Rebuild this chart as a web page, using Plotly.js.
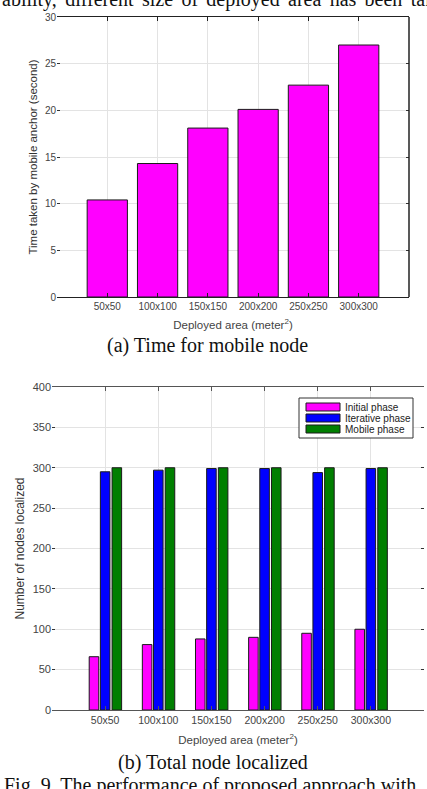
<!DOCTYPE html>
<html>
<head>
<meta charset="utf-8">
<script src="https://cdn.plot.ly/plotly-3.0.1.min.js"></script>
<style>
  html, body { margin: 0; padding: 0; background: #fff; }
  #fig { width: 427px; height: 789px; }
</style>
</head>
<body>
<div id="fig"></div>
<script>
// Deployed area sizes (x categories shared by both panels)
const areas = ['50x50', '100x100', '150x150', '200x200', '250x250', '300x300'];

// Panel (a): time taken by the mobile anchor, seconds
const mobileTime = [10.4, 14.3, 18.1, 20.1, 22.7, 27.0];

// Panel (b): number of nodes localized per phase
const phaseNames = ['Initial phase', 'Iterative phase', 'Mobile phase'];
const initialPhase = [66, 81, 88, 90, 95, 100];
const iterativePhase = [295, 297, 299, 299, 294, 299];
const mobilePhase = [300, 300, 300, 300, 300, 300];

const W = 427, H = 789;
const px = x => x / W;
const py = y => 1 - y / H;

const phaseColors = ['#ff00ff', '#0000ff', '#007f00'];
const outline = { color: '#1a1a1a', width: 1 };
const sans = 'Liberation Sans, Arial, sans-serif';
const serif = 'Liberation Serif, Times New Roman, serif';

const traces = [
  {
    type: 'bar', x: areas, y: mobileTime, xaxis: 'x', yaxis: 'y',
    width: 0.8, marker: { color: '#ff00ff', line: outline },
    name: 'Time', showlegend: false, hoverinfo: 'x+y'
  }
];

const phaseSeries = [initialPhase, iterativePhase, mobilePhase];
const phaseOffsets = [-0.30, -0.09, 0.13];
phaseSeries.forEach((vals, i) => {
  traces.push({
    type: 'bar', x: areas, y: vals, xaxis: 'x2', yaxis: 'y2',
    width: 0.18, offset: phaseOffsets[i],
    marker: { color: phaseColors[i], line: outline },
    name: phaseNames[i], showlegend: false
  });
});

const gridColor = '#e3e3e3';

function xAxis(domain, anchor, lineColor, fontSize, standoff) {
  return {
    domain: domain, anchor: anchor, type: 'category', range: [-1, 6],
    showline: true, linecolor: lineColor, linewidth: 1, mirror: 'ticks',
    ticks: 'inside', ticklen: 4, tickcolor: lineColor,
    showgrid: true, gridcolor: gridColor, gridwidth: 1,
    tickfont: { family: sans, size: fontSize, color: '#444' },
    title: { text: 'Deployed area (meter<sup>2</sup>)', standoff: standoff,
             font: { family: sans, size: 11.5, color: '#444' } },
    fixedrange: true, zeroline: false
  };
}

function yAxis(domain, anchor, range, dtick, title, fontSize, titleSize, standoff) {
  return {
    domain: domain, anchor: anchor, range: range, dtick: dtick, tick0: 0,
    showline: false, mirror: 'ticks', ticks: 'inside', ticklen: 3, tickcolor: '#333',
    showgrid: true, gridcolor: gridColor, gridwidth: 1, zeroline: false,
    tickfont: { family: sans, size: fontSize, color: '#444' },
    title: { text: title, standoff: standoff,
             font: { family: sans, size: titleSize, color: '#333' } },
    fixedrange: true
  };
}

// Legend box for panel (b)
const legendShapes = [
  { type: 'rect', xref: 'paper', yref: 'paper', x0: px(299), x1: px(413), y0: py(398), y1: py(438),
    line: { color: '#333', width: 1 }, fillcolor: '#fff' }
];
const legendRows = [407, 418, 429];
const legendAnn = [];
legendRows.forEach((yc, i) => {
  legendShapes.push({ type: 'rect', xref: 'paper', yref: 'paper',
    x0: px(306), x1: px(340), y0: py(yc - 4), y1: py(yc + 4),
    fillcolor: phaseColors[i], line: { color: '#1a1a1a', width: 1 } });
  legendAnn.push({ xref: 'paper', yref: 'paper', x: px(343), y: py(yc), xanchor: 'left', yanchor: 'middle',
    text: phaseNames[i], showarrow: false, font: { family: sans, size: 10, color: '#222' } });
});

// justified running text of the page
const sp = '\u00a0\u2006';
const runningText = ['ability,', 'different', 'size', 'of', 'deployed', 'area', 'has', 'been', 'taken'].join(sp);

const layout = {
  width: W, height: H,
  margin: { l: 0, r: 0, t: 0, b: 0 },
  paper_bgcolor: '#fff', plot_bgcolor: '#fff',
  barmode: 'overlay', showlegend: false,
  xaxis: xAxis([px(57), px(409)], 'y', '#222', 10, 9),
  yaxis: yAxis([py(297), py(17)], 'x', [0, 30], 5, 'Time taken by mobile anchor (second)', 10, 11.5, 4),
  xaxis2: xAxis([px(52), px(424)], 'y2', '#555', 10.5, 11),
  yaxis2: yAxis([py(710), py(387)], 'x2', [0, 400], 50, 'Number of nodes localized', 11, 12, 5),
  shapes: [
    // right border of panel (a)
    { type: 'line', xref: 'x domain', yref: 'y domain', x0: 1, x1: 1, y0: 0, y1: 1,
      line: { color: '#222', width: 1.5 } }
  ].concat(legendShapes),
  annotations: [
    { xref: 'paper', yref: 'paper', x: 0, y: py(13), xanchor: 'left', yanchor: 'bottom',
      text: runningText, showarrow: false,
      font: { family: serif, size: 20, color: '#111' } },
    { xref: 'paper', yref: 'paper', x: px(207), y: py(345), xanchor: 'center', yanchor: 'middle',
      text: '(a) Time for mobile node', showarrow: false,
      font: { family: serif, size: 20, color: '#111' } },
    { xref: 'paper', yref: 'paper', x: px(213), y: py(762), xanchor: 'center', yanchor: 'middle',
      text: '(b) Total node localized', showarrow: false,
      font: { family: serif, size: 20, color: '#111' } },
    { xref: 'paper', yref: 'paper', x: px(2), y: py(785), xanchor: 'left', yanchor: 'middle',
      text: 'Fig. 9. The performance of proposed approach with', showarrow: false,
      font: { family: serif, size: 20, color: '#111' } }
  ].concat(legendAnn)
};

Plotly.newPlot('fig', traces, layout, { staticPlot: true, displayModeBar: false });
</script>
</body>
</html>
